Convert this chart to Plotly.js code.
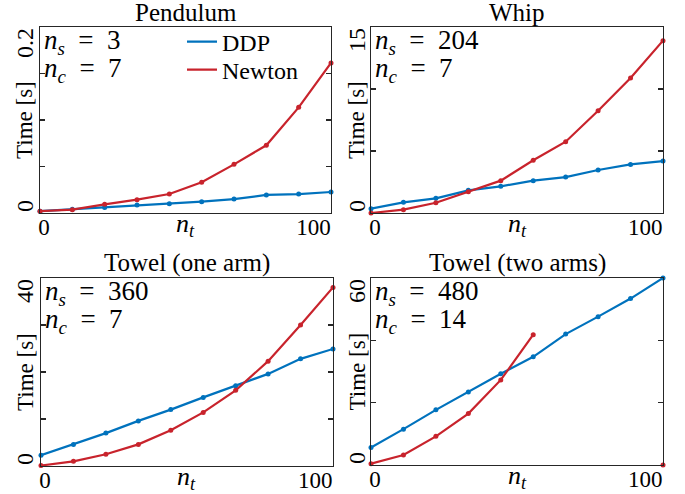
<!DOCTYPE html>
<html>
<head>
<meta charset="utf-8">
<script src="https://cdn.plot.ly/plotly-3.0.1.min.js"></script>
<style>html,body{margin:0;padding:0;background:#fff;}#chart{width:685px;height:494px;}</style>
</head>
<body>
<div id="chart"></div>
<script>
// ---- data ----
const nt = [0, 12, 24, 36, 48, 60, 72, 84, 96, 108];
const xTickVals = [0, 100];
const xTickText = ['0', '100'];

const panelTitles = ['Pendulum', 'Whip', 'Towel (one arm)', 'Towel (two arms)'];
const nsValues = [3, 204, 360, 480];
const ncValues = [7, 7, 7, 14];

const pendulumDDP    = [0.002, 0.004, 0.006, 0.0086, 0.010, 0.0122, 0.015, 0.0194, 0.0204, 0.0226];
const pendulumNewton = [0.002, 0.0036, 0.0093, 0.0143, 0.0204, 0.033, 0.0523, 0.0728, 0.1136, 0.1613];
const whipDDP        = [0.35, 0.86, 1.18, 1.83, 2.15, 2.61, 2.90, 3.47, 3.92, 4.19];
const whipNewton     = [0.0, 0.27, 0.83, 1.72, 2.61, 4.25, 5.75, 8.25, 10.89, 13.9];
const towel1DDP      = [2.3, 4.6, 7.0, 9.6, 12.0, 14.6, 17.1, 19.6, 22.8, 24.9];
const towel1Newton   = [0.1, 1.0, 2.5, 4.6, 7.6, 11.4, 16.1, 22.3, 30.0, 38.0];
const towel2DDP      = [5.6, 11.5, 17.7, 23.4, 29.3, 34.7, 42.0, 47.6, 53.4, 60.0];
const towel2Newton   = [0.4, 3.2, 9.2, 16.5, 27.3, 41.8, null, null, null, 0];

const pendulumTicks = [0, 0.05, 0.1, 0.15, 0.2];
const whipTicks     = [0, 5, 10, 15];
const towel1Ticks   = [0, 10, 20, 30, 40];
const towel2Ticks   = [0, 20, 40, 60];
const pendulumTickLabels = ['0', '', '', '', '0.2'];
const whipTickLabels     = ['0', '', '', '15'];
const towel1TickLabels   = ['0', '', '', '', '40'];
const towel2TickLabels   = ['0', '', '', '60'];

const seriesNames = ['DDP', 'Newton'];

// ---- layout helpers ----
const W = 685, H = 494;
const px = x => x / W;
const py = y => 1 - y / H;
const BLUE = '#0072BD', RED = '#C8232C', AX = '#262626';
const FONT = 'Liberation Serif';
const SP = '&nbsp;&nbsp;';

const panels = [
  {ddp: pendulumDDP, newton: pendulumNewton, ticks: pendulumTicks, labels: pendulumTickLabels, x0: 40, x1: 331, y0: 27, y1: 213, labX: 25},
  {ddp: whipDDP, newton: whipNewton, ticks: whipTicks, labels: whipTickLabels, x0: 371, x1: 663, y0: 27, y1: 213, labX: 357},
  {ddp: towel1DDP, newton: towel1Newton, ticks: towel1Ticks, labels: towel1TickLabels, x0: 41, x1: 333, y0: 278, y1: 466, labX: 25},
  {ddp: towel2DDP, newton: towel2Newton, ticks: towel2Ticks, labels: towel2TickLabels, x0: 371, x1: 663, y0: 278, y1: 465, labX: 357}
];

const data = [];
const legendBase = {xanchor: 'left', yanchor: 'middle', bgcolor: 'rgba(0,0,0,0)', borderwidth: 0,
                    font: {family: FONT, size: 24, color: '#000'}, itemwidth: 30};
const layout = {
  width: W, height: H,
  margin: {l: 0, r: 0, t: 0, b: 0},
  paper_bgcolor: '#fff', plot_bgcolor: '#fff',
  font: {family: FONT, size: 24, color: '#000'},
  showlegend: true,
  legend: Object.assign({x: px(182), y: py(42)}, legendBase),
  legend2: Object.assign({x: px(182), y: py(70)}, legendBase),
  annotations: []
};

// legend entries (line only, as in the reference)
[[BLUE, seriesNames[0], 'legend'], [RED, seriesNames[1], 'legend2']].forEach(([c, name, lg]) => {
  data.push({x: [null], y: [null], xaxis: 'x', yaxis: 'y', name: name, type: 'scatter', mode: 'lines',
             line: {color: c, width: 2.2}, showlegend: true, legend: lg, hoverinfo: 'skip'});
});

panels.forEach((p, i) => {
  const k = i === 0 ? '' : String(i + 1);
  const xa = 'x' + k, ya = 'y' + k;
  [[p.ddp, BLUE, seriesNames[0]], [p.newton, RED, seriesNames[1]]].forEach(([ys, c, name]) => {
    data.push({
      x: nt, y: ys, xaxis: xa, yaxis: ya, name: name, type: 'scatter', mode: 'lines+markers',
      line: {color: c, width: 2.2}, marker: {color: c, size: 5},
      connectgaps: false, cliponaxis: false, showlegend: false, hoverinfo: 'skip'
    });
  });
  const top = p.ticks[p.ticks.length - 1];
  layout['xaxis' + k] = {
    domain: [px(p.x0), px(p.x1)], anchor: ya, range: [0, 108],
    showline: true, linecolor: AX, linewidth: 1.3, mirror: true,
    ticks: '', tickvals: xTickVals, ticktext: xTickText, ticklabelshift: 4, ticklabelstandoff: -7,
    showgrid: false, zeroline: false, tickfont: {family: FONT, size: 23, color: '#000'}
  };
  layout['yaxis' + k] = {
    domain: [py(p.y1), py(p.y0)], anchor: xa, range: [0, top],
    showline: true, linecolor: AX, linewidth: 1.3, mirror: 'ticks',
    ticks: 'inside', ticklen: 5, tickwidth: 1.3, tickcolor: AX, tickvals: p.ticks,
    showticklabels: false, showgrid: false, zeroline: false
  };
  // y tick labels (rotated, kept inside the axis span)
  p.ticks.forEach((t, j) => {
    if (!p.labels[j]) return;
    layout.annotations.push({
      text: p.labels[j], xref: 'paper', yref: ya, x: px(p.labX), y: t, textangle: -90,
      xanchor: 'center', yanchor: j === 0 ? 'bottom' : 'top', showarrow: false,
      borderpad: 0, font: {family: FONT, size: 24, color: '#000'}
    });
  });
  // y title
  layout.annotations.push({
    text: 'Time [s]', xref: 'paper', yref: 'paper', x: px(p.labX), y: py((p.y0 + p.y1) / 2),
    textangle: -90, xanchor: 'center', yanchor: 'middle', showarrow: false,
    font: {family: FONT, size: 23, color: '#000'}
  });
  // x title
  layout.annotations.push({
    text: '<i>n</i><sub><i>t</i></sub>', xref: 'paper', yref: 'paper', x: px((p.x0 + p.x1) / 2), y: py(p.y1 + 12),
    xanchor: 'center', yanchor: 'middle', showarrow: false, borderpad: 0,
    font: {family: FONT, size: 26, color: '#000'}
  });
  // panel title
  layout.annotations.push({
    text: panelTitles[i], xref: 'paper', yref: 'paper', x: px((p.x0 + p.x1) / 2), y: py(p.y0 - 15),
    xanchor: 'center', yanchor: 'middle', showarrow: false,
    font: {family: FONT, size: 25, color: '#000'}
  });
  // n_s, n_c
  layout.annotations.push({
    text: '<i>n</i><sub><i>s</i></sub>' + SP + '=' + SP + nsValues[i], xref: 'paper', yref: 'paper',
    x: px(p.x0 + 2), y: py(p.y0 + 15), xanchor: 'left', yanchor: 'middle', showarrow: false,
    font: {family: FONT, size: 27, color: '#000'}
  });
  layout.annotations.push({
    text: '<i>n</i><sub><i>c</i></sub>' + SP + '=' + SP + ncValues[i], xref: 'paper', yref: 'paper',
    x: px(p.x0 + 2), y: py(p.y0 + 43), xanchor: 'left', yanchor: 'middle', showarrow: false,
    font: {family: FONT, size: 27, color: '#000'}
  });
});

Plotly.newPlot('chart', data, layout, {displayModeBar: false, staticPlot: true});
</script>
</body>
</html>
